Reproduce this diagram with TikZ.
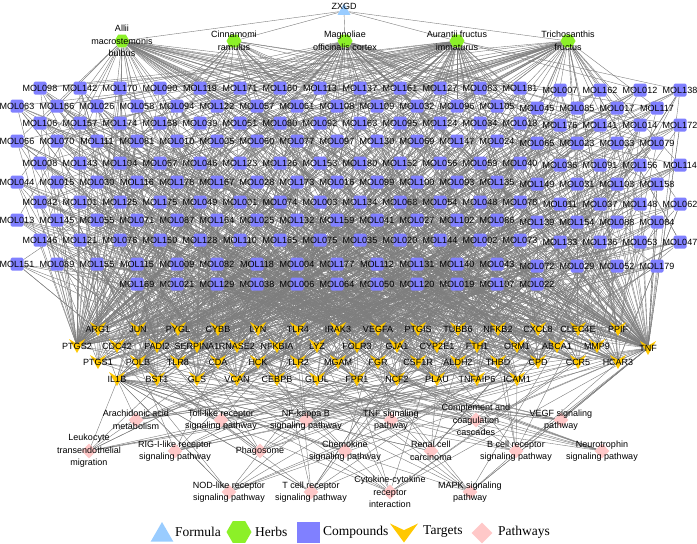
\documentclass[tikz,border=0pt]{standalone}
\usepackage{fontspec}
\setmainfont{Liberation Sans}
\newfontfamily\legendfont{Liberation Serif}
\usetikzlibrary{shapes.geometric,calc}

\pgfdeclarelayer{background}
\pgfsetlayers{background,main}

\definecolor{formulablue}{RGB}{153,204,255}
\definecolor{herbgreen}{RGB}{140,240,40}
\definecolor{cpdblue}{RGB}{128,128,255}
\definecolor{tgtgold}{RGB}{255,200,0}
\definecolor{pathpink}{RGB}{255,200,200}
\definecolor{edgegray}{RGB}{125,125,125}

% lookup tables for the links (herbs weighted by how busy they are)
\newcommand{\herblist}{{"Allii","Allii","Cinnamomi","Magnoliae","Magnoliae","Aurantii","Aurantii","Trichosanthis","Trichosanthis"}}
\newcommand{\targetlist}{{"ARG1","JUN","PYGL","CYBB","LYN","TLR4","IRAK3","VEGFA","PTGIS","TUBB6","NFKB2","CXCL8","CLEC4E","PPIF",
"PTGS2","CDC42","PADI2","SERPINA1","RNASE2","NFKBIA","LYZ","FOLR3","GJA1","CYP2E1","FTH1","ORM1","ABCA1","MMP9",
"PTGS1","POLB","TLR8","CDA","HCK","TLR2","MGAM","FGR","CSF1R","ALDH2","THBD","CPD","CCR5","HCAR3",
"IL1B","BST1","GLS","VCAN","CEBPB","GLUL","FPR1","NCF2","PLAU","TNFAIP6","ICAM1","TNF"}}

\begin{document}
\begin{tikzpicture}[
x=1pt, y=-1pt,
every label/.style={font=\fontsize{9}{12.5}\selectfont, inner sep=0pt, align=center},
formula/.style={regular polygon, regular polygon sides=3, fill=formulablue, minimum size=15pt, inner sep=0pt},
herb/.style={regular polygon, regular polygon sides=6, fill=herbgreen, minimum size=15pt, inner sep=0pt},
compound/.style={rectangle, rounded corners=1.5pt, fill=cpdblue, minimum size=13pt, inner sep=0pt},
target/.style={rectangle, minimum width=16pt, minimum height=14pt, inner sep=0pt,
  path picture={\fill[tgtgold] (path picture bounding box.north west)
    -- ($(path picture bounding box.north)!0.35!(path picture bounding box.south)$)
    -- (path picture bounding box.north east) -- (path picture bounding box.south) -- cycle;}},
pathway/.style={diamond, fill=pathpink, minimum width=15pt, minimum height=15pt, inner sep=0pt},
link/.style={draw=edgegray, line width=0.4pt},
legtext/.style={font=\legendfont\fontsize{13.5}{14}\selectfont, anchor=west, inner sep=0pt}
]
\useasboundingbox (0,0) rectangle (697,544);
\pgfmathsetseed{4711}

% ================= Formula and herbs =================
\node[formula, label={[yshift=5pt]center:ZXGD}] (ZXGD) at (344, 11) {};

\node[herb, label=center:{Allii\\macrostemonis\\bulbus}] (Allii) at (122, 41) {};
\node[herb, label=center:{Cinnamomi\\ramulus}] (Cinnamomi) at (234, 41) {};
\node[herb, label=center:{Magnoliae\\officinalis cortex}] (Magnoliae) at (345, 41) {};
\node[herb, label=center:{Aurantii fructus\\immaturus}] (Aurantii) at (457, 41) {};
\node[herb, label=center:{Trichosanthis\\fructus}] (Trichosanthis) at (568, 41) {};

\begin{pgfonlayer}{background}
\foreach \h in {Allii,Cinnamomi,Magnoliae,Aurantii,Trichosanthis}
  \draw[link] (ZXGD) -- (\h);
\end{pgfonlayer}

% ================= Targets =================
% four staggered rows, TNF sits on its own at the right
\foreach \g [count=\k from 0] in {ARG1,JUN,PYGL,CYBB,LYN,TLR4,IRAK3,VEGFA,PTGIS,TUBB6,NFKB2,CXCL8,CLEC4E,PPIF}
  \node[target, label=center:\g] (\g) at ({98+40*\k}, 329) {};
\foreach \g [count=\k from 0] in {PTGS2,CDC42,PADI2,SERPINA1,RNASE2,NFKBIA,LYZ,FOLR3,GJA1,CYP2E1,FTH1,ORM1,ABCA1,MMP9}
  \node[target, label=center:\g] (\g) at ({77+40*\k}, 346) {};
\foreach \g [count=\k from 0] in {PTGS1,POLB,TLR8,CDA,HCK,TLR2,MGAM,FGR,CSF1R,ALDH2,THBD,CPD,CCR5,HCAR3}
  \node[target, label=center:\g] (\g) at ({98+40*\k}, 362) {};
\foreach \g [count=\k from 0] in {IL1B,BST1,GLS,VCAN,CEBPB,GLUL,FPR1,NCF2,PLAU,TNFAIP6,ICAM1}
  \node[target, label=center:\g] (\g) at ({117+40*\k}, 379) {};
\node[target, label=center:TNF] (TNF) at (648, 348) {};

% ================= Pathways =================
\node[pathway, label=center:{Arachidonic acid\\metabolism}] (Arachidonic) at (136, 420) {};
\node[pathway, label=center:{Toll-like receptor\\signaling pathway}] (Toll) at (221, 420) {};
\node[pathway, label=center:{NF-kappa B\\signaling pathway}] (NFkB) at (306, 420) {};
\node[pathway, label=center:{TNF signaling\\pathway}] (TNFsig) at (391, 420) {};
\node[pathway, label=center:{Complement and\\coagulation\\cascades}] (Complement) at (476, 420) {};
\node[pathway, label=center:{VEGF signaling\\pathway}] (VEGF) at (561, 420) {};

\node[pathway, label=center:{Leukocyte\\transendothelial\\migration}] (Leukocyte) at (89, 451) {};
\node[pathway, label=center:{RIG-I-like receptor\\signaling pathway}] (RIG) at (175, 451) {};
\node[pathway, label=center:{Phagosome}] (Phagosome) at (260, 451) {};
\node[pathway, label=center:{Chemokine\\signaling pathway}] (Chemokine) at (345, 451) {};
\node[pathway, label=center:{Renal cell\\carcinoma}] (Renal) at (431, 451) {};
\node[pathway, label=center:{B cell receptor\\signaling pathway}] (Bcell) at (516, 451) {};
\node[pathway, label=center:{Neurotrophin\\signaling pathway}] (Neurotrophin) at (602, 451) {};

\node[pathway, label=center:{NOD-like receptor\\signaling pathway}] (NOD) at (229, 492) {};
\node[pathway, label=center:{T cell receptor\\signaling pathway}] (Tcell) at (311, 492) {};
\node[pathway, label=center:{Cytokine-cytokine\\receptor\\interaction}] (Cytokine) at (390, 492) {};
\node[pathway, label=center:{MAPK signaling\\pathway}] (MAPK) at (470, 492) {};

% ================= Compounds =================
% rows: y / x of first node / names; each compound gets its herb and target links
\foreach \y/\xa/\row in {
  88/40/{MOL098,MOL142,MOL170,MOL090,MOL119,MOL171,MOL160,MOL113,MOL137,MOL161,MOL127,MOL083,MOL181,MOL007,MOL162,MOL012,MOL138},
  106/17/{MOL063,MOL166,MOL026,MOL058,MOL094,MOL122,MOL057,MOL061,MOL108,MOL109,MOL032,MOL096,MOL105,MOL045,MOL085,MOL017,MOL117},
  123/40/{MOL106,MOL157,MOL174,MOL168,MOL039,MOL051,MOL080,MOL092,MOL163,MOL095,MOL124,MOL034,MOL018,MOL176,MOL141,MOL014,MOL172},
  141/17/{MOL066,MOL070,MOL111,MOL081,MOL010,MOL005,MOL060,MOL077,MOL097,MOL130,MOL069,MOL147,MOL024,MOL065,MOL023,MOL033,MOL079},
  163/40/{MOL008,MOL143,MOL104,MOL067,MOL046,MOL123,MOL126,MOL153,MOL180,MOL152,MOL056,MOL059,MOL040,MOL036,MOL091,MOL156,MOL114},
  182/17/{MOL044,MOL015,MOL030,MOL116,MOL178,MOL167,MOL028,MOL173,MOL016,MOL099,MOL100,MOL093,MOL135,MOL149,MOL031,MOL103,MOL158},
  202/40/{MOL042,MOL101,MOL125,MOL175,MOL049,MOL001,MOL074,MOL003,MOL134,MOL068,MOL054,MOL048,MOL078,MOL011,MOL037,MOL148,MOL062},
  220/17/{MOL013,MOL145,MOL055,MOL071,MOL087,MOL164,MOL025,MOL132,MOL159,MOL041,MOL027,MOL102,MOL086,MOL139,MOL154,MOL088,MOL084},
  240/40/{MOL146,MOL121,MOL076,MOL150,MOL128,MOL110,MOL165,MOL075,MOL035,MOL020,MOL144,MOL002,MOL073,MOL133,MOL136,MOL053,MOL047},
  264/17/{MOL151,MOL089,MOL155,MOL115,MOL009,MOL082,MOL118,MOL004,MOL177,MOL112,MOL131,MOL140,MOL043,MOL072,MOL029,MOL052,MOL179},
  284/137/{MOL169,MOL021,MOL129,MOL038,MOL006,MOL064,MOL050,MOL120,MOL019,MOL107,MOL022}}
{
  \foreach \n [count=\k from 0] in \row {
    \node[compound, label=center:\n] (\n) at ({\xa+40*\k}, {\y+2*(\k>12)}) {};
    \begin{pgfonlayer}{background}
      % herb -> compound
      \pgfmathrandominteger{\q}{0}{8}
      \pgfmathparse{\herblist[\q]}\edef\hb{\pgfmathresult}
      \draw[link] (\hb) -- (\n);
      \pgfmathrandominteger{\q}{0}{9}
      \ifnum\q<4
        \pgfmathrandominteger{\q}{0}{8}
        \pgfmathparse{\herblist[\q]}\edef\hb{\pgfmathresult}
        \draw[link] (\hb) -- (\n);
      \fi
      % compound -> targets
      \foreach \m in {1,...,6} {
        \pgfmathrandominteger{\q}{0}{53}
        \pgfmathparse{\targetlist[\q]}\edef\tg{\pgfmathresult}
        \draw[link] (\n) -- (\tg.center);
      }
      \pgfmathrandominteger{\q}{0}{9}
      \ifnum\k<8
        \ifnum\q<6 \draw[link] (\n) -- (PTGS2.center); \fi
      \else
        \ifnum\q<6 \draw[link] (\n) -- (TNF.center); \fi
      \fi
    \end{pgfonlayer}
  }
}

% ================= Target -> pathway links =================
\begin{pgfonlayer}{background}
\foreach \p in {Arachidonic,Toll,NFkB,TNFsig,Complement,VEGF,Leukocyte,RIG,Phagosome,Chemokine,Renal,Bcell,Neurotrophin,NOD,Tcell,Cytokine,MAPK} {
  \foreach \m in {1,...,8} {
    \pgfmathrandominteger{\q}{0}{53}
    \pgfmathparse{\targetlist[\q]}\edef\tg{\pgfmathresult}
    \draw[link] (\tg.center) -- (\p);
  }
  \pgfmathrandominteger{\q}{0}{9}
  \ifnum\q<6 \draw[link] (TNF.center) -- (\p); \fi
  \pgfmathrandominteger{\q}{0}{9}
  \ifnum\q<5 \draw[link] (IL1B.center) -- (\p); \fi
}
\end{pgfonlayer}

% ================= Legend =================
\node[formula, minimum size=26pt] (legFormula) at (162, 535) {};
\node[legtext] (legFormulaText) at (175, 532) {Formula};
\node[herb, minimum size=25pt] (legHerb) at (239, 532) {};
\node[legtext] (legHerbText) at (255, 532) {Herbs};
\node[compound, rounded corners=0pt, minimum width=23pt, minimum height=21pt] (legCompound) at (308, 532) {};
\node[legtext] (legCompoundText) at (323, 532) {Compounds};
\node[target, minimum width=28pt, minimum height=19pt] (legTarget) at (404, 533) {};
\node[legtext] (legTargetText) at (423, 532) {Targets};
\node[pathway, minimum width=21pt, minimum height=21pt] (legPathway) at (482, 533) {};
\node[legtext] (legPathwayText) at (498, 532) {Pathways};

\end{tikzpicture}
\end{document}
